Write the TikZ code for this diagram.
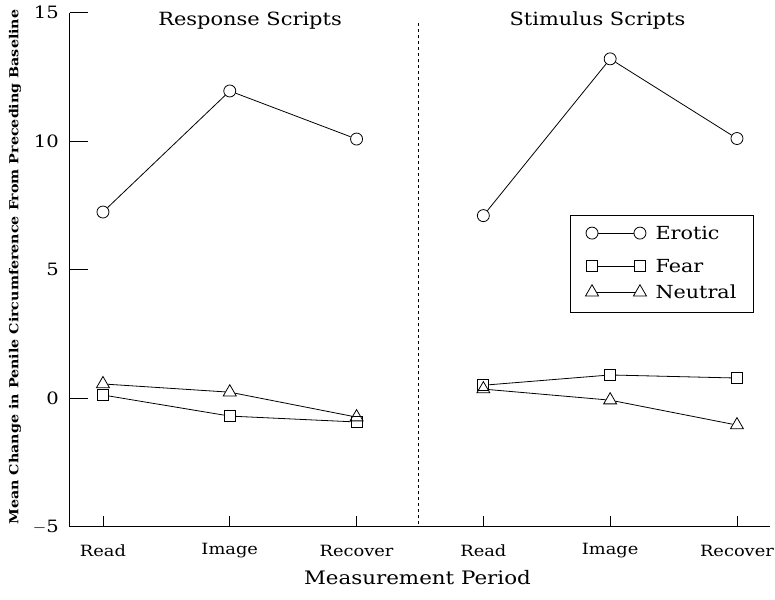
\documentclass[tikz,border=0pt]{standalone}
\usepackage{fontspec}
\setmainfont{DejaVu Serif}[FakeStretch=1.15]
\usetikzlibrary{shapes.geometric}

\tikzset{
  eromark/.style={draw, circle, inner sep=0pt, minimum size=12pt, line width=0.8pt},
  feamark/.style={draw, rectangle, inner sep=0pt, minimum size=11pt, line width=0.8pt},
  neumark/.style={draw, regular polygon, regular polygon sides=3, inner sep=0pt, minimum size=15pt, line width=0.8pt},
  curve/.style={black, line width=0.8pt},
  lbl/.style={font=\fontsize{15.5}{18}\selectfont},
  numlbl/.style={font=\fontsize{17}{19}\selectfont},
  keylbl/.style={font=\fontsize{18}{20}\selectfont},
  ttl/.style={font=\fontsize{18.2}{21}\selectfont}
}

\begin{document}
\begin{tikzpicture}[x=126.8pt, y=25.7pt]
            \useasboundingbox (0.188,15.49) rectangle (6.3,-7.82);

            % axes
            \draw[black, line width=1pt] (0.74,15) -- (0.74,-5) -- (6.26,-5);
            \draw[black, line width=1pt] (0.74,15) -- (0.88,15);
            \draw[black, line width=1pt] (0.74,10) -- (0.88,10);
            \draw[black, line width=1pt] (0.74,5) -- (0.88,5);
            \draw[black, line width=1pt] (0.74,0) -- (0.88,0);
            \foreach \xp in {1,2,3,4,5,6}
              \draw[black, line width=0.8pt] (\xp,-5) -- (\xp,-4.6);
            \draw[black, dashed, line width=0.8pt] (3.485,14.6) -- (3.485,-5);

            \node[numlbl, anchor=east] (t15) at (0.68,15) {15};
            \node[numlbl, anchor=east] (t10) at (0.68,10) {10};
            \node[numlbl, anchor=east] (t5) at (0.68,5) {5};
            \node[numlbl, anchor=east] (t0) at (0.68,0) {0};
            \node[numlbl, anchor=east] (tm5) at (0.68,-5) {$-$5};

            \node[lbl] (xl1) at (1,-5.95) {Read};
            \node[lbl] (xl2) at (2,-5.95) {Image};
            \node[lbl] (xl3) at (3,-5.95) {Recover};
            \node[lbl] (xl4) at (4,-5.95) {Read};
            \node[lbl] (xl5) at (5,-5.95) {Image};
            \node[lbl] (xl6) at (6,-5.95) {Recover};

            \node[font=\fontsize{18.6}{21}\selectfont] (xtitle) at (3.48,-7.0) {Measurement Period};
            \node[font=\fontsize{12.4}{15}\selectfont\bfseries, rotate=90] (ytitle) at (0.306,5.1)
              {Mean Change in Penile Circumference From Preceding Baseline};

            \node[ttl] (resp) at (2.16,14.7) {Response Scripts};
            \node[ttl] (stim) at (4.9,14.7) {Stimulus Scripts};

            % response scripts
            \node[eromark] (re1) at (1,7.24) {};
            \node[eromark] (re2) at (2,11.95) {};
            \node[eromark] (re3) at (3,10.08) {};
            \node[feamark] (rf1) at (1,0.12) {};
            \node[feamark] (rf2) at (2,-0.7) {};
            \node[feamark] (rf3) at (3,-0.93) {};
            \node[neumark] (rn1) at (1,0.55) {};
            \node[neumark] (rn2) at (2,0.23) {};
            \node[neumark] (rn3) at (3,-0.74) {};
            \draw[curve] (re1) -- (re2) -- (re3);
            \draw[curve] (rf1) -- (rf2) -- (rf3);
            \draw[curve] (rn1) -- (rn2) -- (rn3);

            % stimulus scripts
            \node[eromark] (se1) at (4,7.1) {};
            \node[eromark] (se2) at (5,13.2) {};
            \node[eromark] (se3) at (6,10.1) {};
            \node[feamark] (sf1) at (4,0.5) {};
            \node[feamark] (sf2) at (5,0.9) {};
            \node[feamark] (sf3) at (6,0.78) {};
            \node[neumark] (sn1) at (4,0.35) {};
            \node[neumark] (sn2) at (5,-0.08) {};
            \node[neumark] (sn3) at (6,-1.05) {};
            \draw[curve] (se1) -- (se2) -- (se3);
            \draw[curve] (sf1) -- (sf2) -- (sf3);
            \draw[curve] (sn1) -- (sn2) -- (sn3);

            % legend
            \draw[black, line width=0.8pt] (4.683,7.12) rectangle (6.126,3.35);
            \node[eromark] (le1) at (4.857,6.42) {};
            \node[eromark] (le2) at (5.235,6.42) {};
            \node[feamark] (lf1) at (4.857,5.14) {};
            \node[feamark] (lf2) at (5.235,5.14) {};
            \node[neumark] (ln1) at (4.857,4.12) {};
            \node[neumark] (ln2) at (5.235,4.12) {};
            \draw[curve] (le1) -- (le2);
            \draw[curve] (lf1) -- (lf2);
            \draw[curve] (ln1) -- (ln2);
            \node[keylbl, anchor=west] (lte) at (5.33,6.42) {Erotic};
            \node[keylbl, anchor=west] (ltf) at (5.33,5.14) {Fear};
            \node[keylbl, anchor=west] (ltn) at (5.33,4.12) {Neutral};
        \end{tikzpicture}
\end{document}
